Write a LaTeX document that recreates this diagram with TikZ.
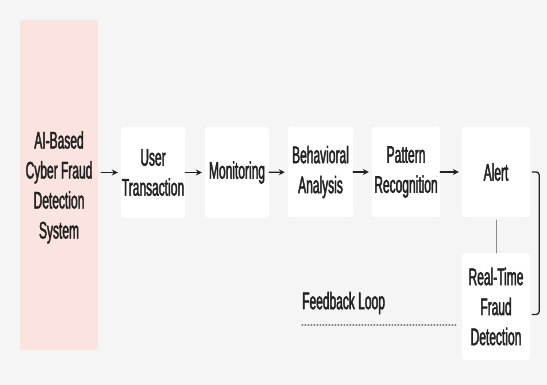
\documentclass[tikz,border=0pt]{standalone}
\usepackage{fontspec}
\setmainfont{Liberation Sans}[FakeStretch=0.5,RawFeature={embolden=1.8}]
\usetikzlibrary{arrows.meta}

\definecolor{bgcol}{HTML}{F5F5F5}
\definecolor{pinkcol}{HTML}{FBE4DF}
\definecolor{inkcol}{HTML}{222222}

\begin{document}
\begin{tikzpicture}[x=1pt,y=-1pt,>=Stealth,line cap=round,line join=round,
    stage/.style={fill=white,rounded corners=3pt,inner sep=0pt,align=center,
      text=inkcol,font=\fontsize{24}{30}\selectfont},
    flow/.style={->,inkcol,line width=1.3pt,shorten >=3pt,
      arrows={-Stealth[length=6pt,width=6pt]}}]
  \fill[bgcol] (0,0) rectangle (547,385);
  \node[stage,fill=pinkcol,minimum width=78pt,minimum height=330pt] (sys) at (59,185)
    {\mbox{}\\[-8pt]AI-Based\\Cyber Fraud\\Detection\\System};
  \node[stage,minimum width=64pt,minimum height=91pt] (user) at (153,172.5) {User\\Transaction};
  \node[stage,minimum width=64pt,minimum height=91pt] (mon) at (237,172.5) {Monitoring};
  \node[stage,minimum width=65pt,minimum height=90pt] (beh) at (320.5,172) {Behavioral\\Analysis};
  \node[stage,minimum width=68pt,minimum height=90pt] (pat) at (406,172) {Pattern\\Recognition};
  \node[stage,minimum width=68pt,minimum height=90pt] (alert) at (496,172) {Alert};
  \node[stage,minimum width=68pt,minimum height=107pt] (rtfd) at (496,306.5) {Real-Time\\Fraud\\Detection};
  \node[anchor=west,inner sep=0pt,text=inkcol,font=\fontsize{24}{28}\selectfont] (fb) at (302,303) {Feedback Loop};
  \coordinate (fbstart) at (302,325);

  % main flow
  \draw[flow] ([xshift=3pt]sys.east |- user) -- (user);
  \draw[flow] (user) -- (mon);
  \draw[flow] (mon) -- (beh);
  \draw[flow] (beh) -- (pat);
  \draw[flow] (pat) -- (alert);

  % alert to detection, bracket and loop
  \draw[gray!90,line width=1pt] ([yshift=-3pt]alert.south) -- (rtfd.north);
  \draw[inkcol,line width=1.3pt,rounded corners=3pt]
    ([xshift=2pt]alert.east) -- ([xshift=9pt]alert.east)
    -- ([xshift=9pt,yshift=-8pt]rtfd.east) -- ([xshift=2pt,yshift=-8pt]rtfd.east);
  \draw[gray,line width=1.2pt,dash pattern=on 0.8pt off 2.2pt]
    (fbstart) -- ([xshift=-5pt]fbstart -| rtfd.west);
\end{tikzpicture}
\end{document}
